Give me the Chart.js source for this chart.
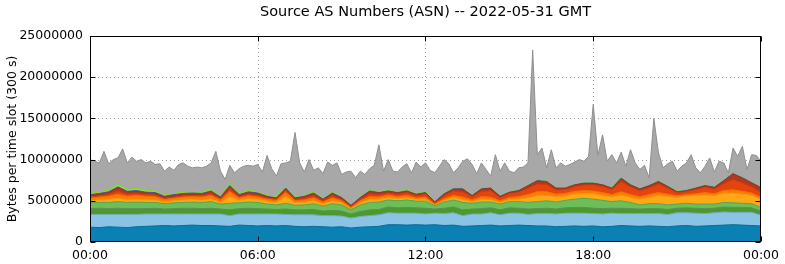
<!DOCTYPE html>
<html>
<head>
<meta charset="utf-8">
<script src="https://cdn.jsdelivr.net/npm/chart.js@4/dist/chart.umd.min.js"></script>
<style>
  html, body { margin: 0; padding: 0; background: #fff; }
</style>
</head>
<body>
<canvas id="chart" width="785" height="264"></canvas>
<script>
// ── Text ──────────────────────────────────────────────────────────────────
const TITLE    = 'Source AS Numbers (ASN) -- 2022-05-31 GMT';
const Y_TITLE  = 'Bytes per time slot (300 s)';
const X_LABELS = ['00:00', '06:00', '12:00', '18:00', '00:00'];
const FONT     = "'DejaVu Sans', sans-serif";

// ── Data (millions of bytes per slot) ─────────────────────────────────────
// Coloured AS layers, one value every 20 minutes, 00:00 → 24:00, bottom first
const darkBlue = [
  1.8,1.75,1.85,1.8,1.75,1.85,1.9,1.95,2.0,1.95,2.0,2.05,2.0,
  2.0,1.95,1.9,2.05,2.0,1.95,2.0,1.95,2.0,1.9,1.85,1.9,
  1.85,1.8,1.85,1.7,1.8,1.85,1.9,2.1,2.1,2.05,2.1,2.05,
  2.1,2.0,2.05,1.9,1.95,2.0,2.05,1.95,2.0,2.05,2.0,1.95,
  1.95,1.85,1.9,1.95,1.9,1.95,1.85,1.9,2.0,1.95,1.9,1.95,
  1.9,1.85,1.95,2.0,1.9,1.95,2.0,2.05,2.1,2.05,2.0,1.95,
];
const lightBlue = [
  1.55,1.6,1.5,1.55,1.6,1.5,1.5,1.45,1.4,1.45,1.4,1.35,1.4,
  1.4,1.45,1.3,1.35,1.4,1.45,1.4,1.45,1.35,1.4,1.45,1.4,
  1.35,1.4,1.3,1.2,1.3,1.35,1.4,1.45,1.4,1.45,1.4,1.35,
  1.4,1.45,1.5,1.3,1.45,1.4,1.5,1.35,1.5,1.45,1.35,1.5,
  1.5,1.55,1.6,1.55,1.6,1.5,1.55,1.6,1.45,1.5,1.55,1.5,
  1.55,1.5,1.6,1.55,1.6,1.5,1.55,1.6,1.5,1.55,1.6,1.3,
];
const darkGreen = [
  0.7,0.75,0.7,0.75,0.7,0.7,0.65,0.7,0.6,0.65,0.7,0.7,0.65,
  0.7,0.6,0.7,0.65,0.7,0.65,0.6,0.55,0.65,0.6,0.6,0.65,
  0.55,0.65,0.6,0.5,0.6,0.7,0.65,0.7,0.65,0.7,0.65,0.7,
  0.5,0.65,0.7,0.7,0.6,0.65,0.6,0.6,0.65,0.6,0.65,0.6,
  0.65,0.6,0.65,0.7,0.7,0.65,0.65,0.6,0.65,0.6,0.55,0.6,
  0.6,0.6,0.55,0.6,0.6,0.6,0.55,0.6,0.6,0.6,0.55,0.5,
];
const lightGreen = [
  0.7,0.7,0.75,0.8,0.75,0.8,0.75,0.7,0.65,0.7,0.7,0.75,0.75,
  0.8,0.6,0.8,0.7,0.75,0.75,0.6,0.55,0.7,0.55,0.6,0.7,
  0.6,0.8,0.75,0.5,0.8,0.9,0.9,0.85,0.85,0.9,0.8,0.85,
  0.4,0.75,0.85,0.9,0.7,0.8,0.7,0.7,0.75,0.8,0.8,0.85,
  0.9,0.85,0.9,1.0,1.1,1.1,1.0,0.8,0.9,0.75,0.5,0.6,
  0.6,0.55,0.5,0.55,0.5,0.55,0.5,0.55,0.55,0.5,0.5,0.45,
];
const amber = [
  0.25,0.3,0.35,0.4,0.3,0.35,0.3,0.3,0.2,0.25,0.3,0.3,0.3,
  0.35,0.2,0.8,0.3,0.4,0.35,0.35,0.3,0.8,0.3,0.3,0.35,
  0.25,0.35,0.25,0.15,0.25,0.35,0.3,0.3,0.25,0.3,0.2,0.25,
  0.1,0.2,0.3,0.35,0.2,0.35,0.3,0.2,0.25,0.3,0.55,0.7,
  0.65,0.6,0.55,0.6,0.6,0.65,0.6,0.55,0.7,0.6,0.7,0.75,
  1.0,1.0,0.8,0.85,1.0,1.1,1.0,1.1,1.2,1.1,1.0,0.95,
];
const orange = [
  0.3,0.35,0.4,0.5,0.45,0.45,0.45,0.4,0.3,0.3,0.35,0.35,0.35,
  0.4,0.3,0.6,0.3,0.35,0.3,0.25,0.25,0.5,0.25,0.3,0.35,
  0.25,0.35,0.25,0.15,0.25,0.35,0.3,0.3,0.25,0.25,0.2,0.25,
  0.1,0.2,0.25,0.3,0.2,0.3,0.3,0.2,0.25,0.3,0.4,0.5,
  0.45,0.35,0.3,0.35,0.35,0.35,0.35,0.3,0.4,0.35,0.3,0.35,
  0.35,0.3,0.2,0.2,0.25,0.3,0.25,0.35,0.4,0.35,0.3,0.25,
];
const red = [
  0.15,0.15,0.2,0.35,0.25,0.25,0.2,0.2,0.15,0.15,0.15,0.15,0.15,
  0.2,0.15,0.3,0.15,0.2,0.2,0.15,0.15,0.25,0.15,0.2,0.25,
  0.15,0.25,0.15,0.1,0.15,0.3,0.25,0.25,0.25,0.3,0.25,0.3,
  0.15,0.35,0.5,0.6,0.35,0.6,0.75,0.35,0.45,0.5,0.75,0.9,
  0.85,0.5,0.45,0.55,0.65,0.7,0.7,0.6,1.2,0.9,0.7,0.8,
  1.0,0.7,0.35,0.35,0.5,0.6,0.55,0.8,1.2,1.0,0.7,0.6,
];
const darkRed = [
  0.2,0.2,0.25,0.45,0.25,0.25,0.2,0.2,0.15,0.2,0.2,0.2,0.2,
  0.25,0.15,0.35,0.15,0.2,0.2,0.15,0.1,0.2,0.15,0.2,0.25,
  0.15,0.25,0.2,0.1,0.2,0.3,0.25,0.2,0.2,0.2,0.15,0.2,
  0.1,0.2,0.25,0.35,0.15,0.3,0.3,0.15,0.15,0.2,0.3,0.4,
  0.35,0.2,0.15,0.2,0.2,0.2,0.2,0.15,0.4,0.25,0.2,0.25,
  0.3,0.2,0.1,0.1,0.15,0.2,0.2,0.35,0.7,0.6,0.5,0.55,
];
const blue = [
  0.1,0.1,0.1,0.1,0.1,0.1,0.1,0.1,0.1,0.1,0.1,0.1,0.1,
  0.1,0.05,0.1,0.1,0.1,0.1,0.05,0.05,0.1,0.05,0.05,0.1,
  0.05,0.1,0.05,0.05,0.05,0.1,0.05,0.05,0.05,0.05,0.05,0.05,
  0.03,0.05,0.05,0.05,0.05,0.05,0.05,0.05,0.05,0.05,0.05,0.05,
  0.05,0.05,0.05,0.05,0.05,0.05,0.05,0.05,0.05,0.05,0.05,0.05,
  0.05,0.05,0.05,0.05,0.05,0.05,0.05,0.05,0.05,0.05,0.05,0.05,
];
const lime = [
  0.15,0.2,0.2,0.3,0.25,0.25,0.25,0.2,0.15,0.15,0.2,0.15,0.2,
  0.2,0.15,0.25,0.15,0.2,0.15,0.15,0.15,0.15,0.15,0.15,0.15,
  0.1,0.15,0.1,0.05,0.1,0.1,0.1,0.1,0.1,0.1,0.1,0.1,
  0.02,0.05,0.05,0.05,0.05,0.05,0.05,0.05,0.05,0.05,0.05,0.05,
  0.05,0.05,0.05,0.05,0.05,0.05,0.05,0.05,0.05,0.05,0.05,0.05,
  0.05,0.05,0.05,0.05,0.05,0.05,0.05,0.05,0.05,0.05,0.05,0.05,
];

// Total of all ASNs (the grey "other" band shows above the coloured stack),
// one value every 10 minutes
const total = [
  10.0,9.8,9.6,11.0,9.5,10.0,10.2,11.3,9.6,10.3,9.8,10.0,
  9.6,9.8,9.4,9.5,8.6,9.1,8.7,9.4,9.6,9.2,9.0,9.1,
  9.0,9.2,9.6,11.0,8.6,7.6,9.3,8.4,8.9,9.2,9.3,9.2,
  9.4,8.5,10.5,8.9,8.0,9.5,9.6,9.8,13.3,9.6,8.5,10.0,
  8.7,9.0,8.3,9.7,9.3,9.6,8.2,8.5,8.6,7.8,8.6,8.2,
  8.9,9.3,11.8,8.6,10.0,8.6,8.5,9.1,9.5,8.4,9.7,9.1,
  9.6,8.7,8.4,9.2,10.0,9.5,8.4,9.0,9.8,10.1,9.4,8.3,
  9.6,8.8,8.0,10.6,8.6,9.6,8.6,8.4,9.0,9.1,9.6,23.3,
  10.6,11.4,9.0,11.2,9.0,9.6,9.2,9.4,9.7,10.0,9.8,10.4,
  16.7,10.5,13.0,9.8,10.6,9.6,10.9,9.2,11.2,9.6,8.8,9.3,
  7.8,15.0,10.8,9.0,9.5,9.8,8.6,9.2,9.6,10.6,9.0,8.4,
  9.2,10.2,8.5,9.8,9.6,8.4,11.4,10.4,11.6,8.8,10.6,10.5,
  9.8,
];

const LAYER_STEP_H = 20 / 60;
const TOTAL_STEP_H = 10 / 60;
const MB = 1e6;

const LAYERS = [
  { label: 'AS 1', values: darkBlue,   fill: '#0b80b2', line: '#0a6c97' },
  { label: 'AS 2', values: lightBlue,  fill: '#8ac3e3', line: '#74a8c2' },
  { label: 'AS 3', values: darkGreen,  fill: '#4b9a2b', line: '#5f8f58' },
  { label: 'AS 4', values: lightGreen, fill: '#6dbe58', line: '#5aa648' },
  { label: 'AS 5', values: amber,      fill: '#ffa817', line: '#f09a10' },
  { label: 'AS 6', values: orange,     fill: '#ff7c00', line: '#f07000' },
  { label: 'AS 7', values: red,        fill: '#e5450c', line: '#d33c08' },
  { label: 'AS 8', values: darkRed,    fill: '#b23822', line: '#a0301c' },
  { label: 'AS 9', values: blue,       fill: '#3d5ca8', line: '#3d5ca8' },
  { label: 'AS 10', values: lime,      fill: '#98de3e', line: '#8ccf38' },
];

const C = {
  other:     '#a8a8a8',
  otherLine: '#8e8e8e',
  grid:      '#a0a0a0',
  frame:     '#000000',
  text:      '#000000',
};

// ── Helpers ───────────────────────────────────────────────────────────────
function points(values, stepH) {
  return values.map((v, i) => ({ x: i * stepH, y: v * MB }));
}

// ── Dotted grid, frame, inward tick marks and title (gnuplot-like box) ────
const framePlugin = {
  id: 'frame',
  beforeDatasetsDraw(chart) {
    const { ctx, chartArea: { left, right, top, bottom }, scales: { x, y } } = chart;
    ctx.save();
    ctx.strokeStyle = C.grid;
    ctx.lineWidth = 1;
    ctx.setLineDash([1, 3]);
    ctx.beginPath();
    x.ticks.forEach(tk => {
      const px = Math.round(x.getPixelForValue(tk.value)) + 0.5;
      if (px <= left + 1 || px >= right - 1) return;
      ctx.moveTo(px, top); ctx.lineTo(px, bottom);
    });
    y.ticks.forEach(tk => {
      const py = Math.round(y.getPixelForValue(tk.value)) + 0.5;
      if (py <= top + 1 || py >= bottom - 1) return;
      ctx.moveTo(left, py); ctx.lineTo(right, py);
    });
    ctx.stroke();
    ctx.restore();
  },
  afterDatasetsDraw(chart) {
    const { ctx, chartArea: { left, right, top, bottom }, scales: { x, y } } = chart;
    const l = Math.round(left) + 0.5, r = Math.round(right) - 0.5;
    const t = Math.round(top) + 0.5,  b = Math.round(bottom) - 0.5;
    ctx.save();
    ctx.strokeStyle = C.frame;
    ctx.lineWidth = 1;
    ctx.strokeRect(l, t, r - l, b - t);
    ctx.beginPath();
    x.ticks.forEach(tk => {
      const px = Math.round(x.getPixelForValue(tk.value)) + 0.5;
      ctx.moveTo(px, b); ctx.lineTo(px, b - 5);
      ctx.moveTo(px, t); ctx.lineTo(px, t + 5);
    });
    y.ticks.forEach(tk => {
      const py = Math.round(y.getPixelForValue(tk.value)) + 0.5;
      ctx.moveTo(l, py); ctx.lineTo(l + 5, py);
      ctx.moveTo(r, py); ctx.lineTo(r - 5, py);
    });
    ctx.stroke();
    ctx.restore();
  },
  afterDraw(chart) {
    const { ctx, chartArea: { left, right } } = chart;
    ctx.save();
    ctx.fillStyle = C.text;
    ctx.font = `14.5px ${FONT}`;
    ctx.textAlign = 'center';
    ctx.textBaseline = 'middle';
    ctx.fillText(TITLE, (left + right) / 2, 12);
    ctx.restore();
  },
};

// ── Chart ─────────────────────────────────────────────────────────────────
const datasets = LAYERS.map((layer, i) => ({
  label:           layer.label,
  data:            points(layer.values, LAYER_STEP_H),
  backgroundColor: layer.fill,
  borderColor:     layer.line,
  borderWidth:     1,
  pointRadius:     0,
  tension:         0,
  fill:            i === 0 ? 'origin' : '-1',
  stack:           'asn',
  order:           0,
}));

datasets.push({
  label:           'Total',
  data:            points(total, TOTAL_STEP_H),
  backgroundColor: C.other,
  borderColor:     C.otherLine,
  borderWidth:     1,
  pointRadius:     0,
  tension:         0,
  fill:            'origin',
  stack:           'total',
  order:           1,
});

new Chart(document.getElementById('chart'), {
  type: 'line',
  data: { datasets },
  options: {
    responsive: false,
    animation:  false,
    layout: { padding: { left: 0, right: 20, top: 36, bottom: 0 } },
    plugins: {
      legend:  { display: false },
      tooltip: { enabled: false },
      title:   { display: false },
    },
    scales: {
      x: {
        type: 'linear',
        min: 0,
        max: 24,
        afterFit: s => { s.height = 22; },
        grid:   { display: false, drawTicks: false },
        border: { display: false },
        ticks: {
          stepSize: 6,
          padding: 6,
          maxRotation: 0,
          color: C.text,
          font: { family: FONT, size: 12.5 },
          callback: v => X_LABELS[v / 6],
        },
      },
      y: {
        stacked: true,
        min: 0,
        max: 25 * MB,
        afterFit: s => { s.width = 90; },
        grid:   { display: false, drawTicks: false },
        border: { display: false },
        ticks: {
          stepSize: 5 * MB,
          padding: 7,
          color: C.text,
          font: { family: FONT, size: 12.5 },
          callback: v => String(v),
        },
        title: {
          display: true,
          text: Y_TITLE,
          color: C.text,
          font: { family: FONT, size: 12.5 },
          padding: { top: 5, bottom: 0 },
        },
      },
    },
  },
  plugins: [framePlugin],
});
</script>
</body>
</html>
